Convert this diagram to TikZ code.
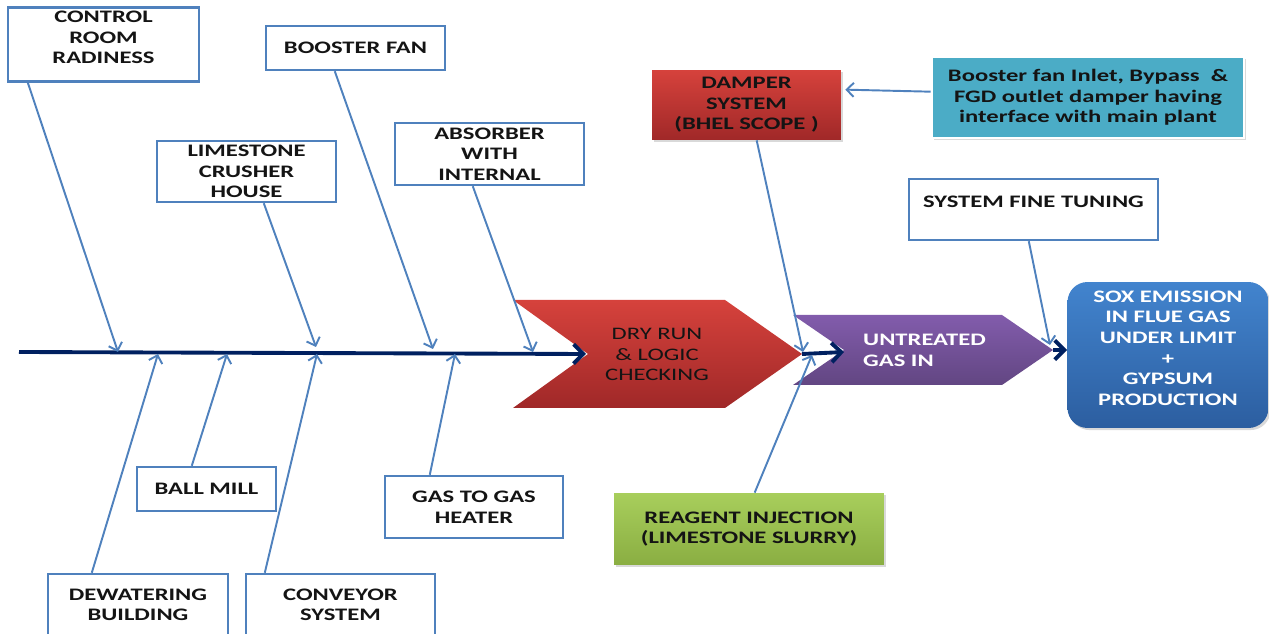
\documentclass[tikz,border=0pt]{standalone}
\usepackage{fontspec}
\setmainfont{Carlito}[FakeStretch=1.40]
\usetikzlibrary{arrows.meta, calc, shadows}
\definecolor{causeblue}{RGB}{79, 129, 189}
\definecolor{spinenavy}{RGB}{0, 32, 96}
\definecolor{redtop}{RGB}{214, 66, 60}
\definecolor{redbot}{RGB}{160, 40, 40}
\definecolor{purpletop}{RGB}{130, 92, 172}
\definecolor{purplebot}{RGB}{98, 70, 130}
\definecolor{soxtop}{RGB}{66, 132, 206}
\definecolor{soxbot}{RGB}{44, 94, 160}
\definecolor{greentop}{RGB}{168, 206, 92}
\definecolor{greenbot}{RGB}{138, 174, 66}
\definecolor{tealfill}{RGB}{75, 172, 198}
\definecolor{inkdark}{RGB}{20, 20, 20}
\newcommand{\labelfont}{\fontsize{10}{11.7}\selectfont\bfseries}

\tikzset{
  causebox/.style={draw=causeblue, line width=1.4pt, fill=white, align=center, inner sep=2pt, text=inkdark, font=\labelfont},
  colorbox/.style={align=center, inner sep=2pt, text=inkdark, font=\labelfont, drop shadow={shadow xshift=1.2pt, shadow yshift=-1.2pt, opacity=0.3}},
  causearrow/.style={draw=causeblue, line width=1.1pt, -{Straight Barb[length=4pt, width=8pt]}},
  spinearrow/.style={draw=spinenavy, line width=2.2pt, -{Straight Barb[length=5.5pt, width=11pt]}}
}

\begin{document}
\begin{tikzpicture}[x=0.02cm, y=-0.02cm]
  \useasboundingbox (0,0) rectangle (1269,634);

  % Cause boxes above the spine
  \node[causebox, minimum width=3.82cm, minimum height=1.46cm, text depth=8pt] (control) at (103.5, 44.5) {CONTROL\\ROOM\\RADINESS};
  \node[causebox, minimum width=3.58cm, minimum height=0.88cm] (booster) at (355.5, 48) {BOOSTER FAN};
  \node[causebox, minimum width=3.58cm, minimum height=1.22cm] (crusher) at (246.5, 171.5) {LIMESTONE\\CRUSHER\\HOUSE};
  \node[causebox, minimum width=3.78cm, minimum height=1.24cm] (absorber) at (489.5, 154) {ABSORBER\\WITH\\INTERNAL};

  % Cause boxes below the spine
  \node[causebox, minimum width=2.78cm, minimum height=0.88cm] (ballmill) at (206.5, 489) {BALL MILL};
  \node[causebox, minimum width=3.56cm, minimum height=1.24cm] (gasheater) at (474, 507) {GAS TO GAS\\HEATER};
  \node[causebox, minimum width=3.60cm, minimum height=1.24cm] (dewater) at (138, 605) {DEWATERING\\BUILDING};
  \node[causebox, minimum width=3.78cm, minimum height=1.24cm] (conveyor) at (340.5, 605) {CONVEYOR\\SYSTEM};

  % Right hand side boxes
  \node[colorbox, top color=redtop, bottom color=redbot, minimum width=3.78cm, minimum height=1.40cm] (damper) at (746.5, 105) {DAMPER\\SYSTEM\\(BHEL SCOPE )};
  \node[colorbox, fill=tealfill, draw=white, line width=1.5pt, minimum width=6.24cm, minimum height=1.62cm] (interface) at (1088, 97.5) {Booster fan Inlet, Bypass~ \&\\FGD outlet damper having\\interface with main plant};
  \node[causebox, minimum width=4.98cm, minimum height=1.22cm, text depth=8.5pt] (tuning) at (1033.5, 209.5) {SYSTEM FINE TUNING};
  \node[colorbox, top color=greentop, bottom color=greenbot, minimum width=5.40cm, minimum height=1.44cm] (reagent) at (749, 529) {REAGENT INJECTION\\(LIMESTONE SLURRY)};
  \node[colorbox, top color=soxtop, bottom color=soxbot, rounded corners=0.4cm, text=white, minimum width=4.02cm, minimum height=2.92cm, text depth=8pt] (sox) at (1168, 355) {SOX EMISSION\\IN FLUE GAS\\UNDER LIMIT\\+\\GYPSUM\\PRODUCTION};

  % Process chevrons
  \shade[top color=purpletop, bottom color=purplebot] (793,315) -- (1002,315) -- (1053,350) coordinate (gas-tip) -- (1002,385) -- (793,385) -- (844,350) coordinate (gas-notch) -- cycle;
  \node[anchor=west, align=left, text=white, font=\labelfont] (untreated) at (857, 350.5) {UNTREATED\\GAS IN};
  \shade[top color=redtop, bottom color=redbot] (513,300) -- (725,300) -- (802,354) coordinate (dry-tip) -- (725,408) -- (513,408) -- (588,354) coordinate (dry-notch) -- cycle;
  \node[align=center, text=inkdark, font=\fontsize{10}{11.7}\selectfont] (dryrun) at (657, 354.5) {DRY RUN\\\& LOGIC\\CHECKING};

  % Spine
  \coordinate (spine-tail) at (19, 352);
  \draw[spinearrow] (spine-tail) -- ($(dry-notch)+(-2,0)$);
  \draw[spinearrow] (dry-tip) -- ($(gas-notch)+(0,2)$);
  \draw[spinearrow] (gas-tip) -- (gas-tip -| sox.west);

  % Cause connectors
  \coordinate (hit-control) at (118, 352);
  \coordinate (hit-crusher) at (316, 347);
  \coordinate (hit-booster) at (433, 349);
  \coordinate (hit-absorber) at (533, 352);
  \coordinate (hit-damper) at (803, 352);
  \coordinate (hit-tuning) at (1050, 345);
  \coordinate (hit-reagent) at (812, 355);
  \coordinate (hit-dewater) at (158, 354);
  \coordinate (hit-ballmill) at (227, 354);
  \coordinate (hit-conveyor) at (317, 354);
  \coordinate (hit-gasheater) at (455, 354);
  \draw[causearrow] ($(control.south west)+(21,0)$) -- (hit-control);
  \draw[causearrow] ($(crusher.south west)+(108,0)$) -- (hit-crusher);
  \draw[causearrow] ($(booster.south west)+(70,0)$) -- (hit-booster);
  \draw[causearrow] ($(absorber.south west)+(79,0)$) -- (hit-absorber);
  \draw[causearrow] ($(damper.south west)+(105,0)$) -- (hit-damper);
  \draw[causearrow] ($(tuning.south west)+(121,0)$) -- (hit-tuning);
  \draw[causearrow] ($(reagent.north west)+(141,0)$) -- (hit-reagent);
  \draw[causearrow] ($(dewater.north west)+(45,0)$) -- (hit-dewater);
  \draw[causearrow] ($(ballmill.north west)+(56,0)$) -- (hit-ballmill);
  \draw[causearrow] ($(conveyor.north west)+(20,0)$) -- (hit-conveyor);
  \draw[causearrow] ($(gasheater.north west)+(46,0)$) -- (hit-gasheater);
  \draw[causearrow] ($(interface.north west)+(0,36)$) -- ($(damper.north east)+(4,20)$);
\end{tikzpicture}
\end{document}
